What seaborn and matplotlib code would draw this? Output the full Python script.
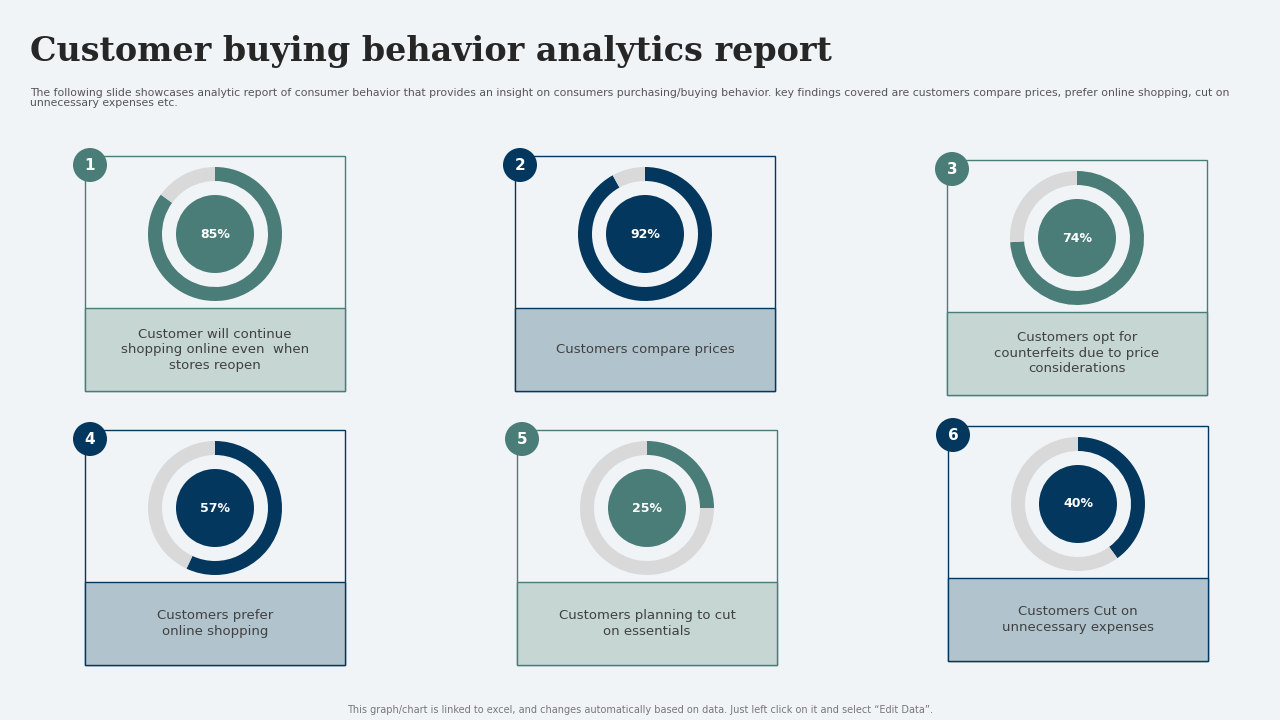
import matplotlib
matplotlib.use("Agg")
import matplotlib.pyplot as plt
import seaborn as sns
from matplotlib.patches import Rectangle, Circle

# data
card_numbers = ["1", "2", "3", "4", "5", "6"]
percentages = [85, 92, 74, 57, 25, 40]
labels = [
    "Customer will continue\nshopping online even  when\nstores reopen",
    "Customers compare prices",
    "Customers opt for\ncounterfeits due to price\nconsiderations",
    "Customers prefer\nonline shopping",
    "Customers planning to cut\non essentials",
    "Customers Cut on\nunnecessary expenses",
]
themes = ["teal", "navy", "teal", "navy", "teal", "navy"]

# layout (pixels, top-left origin): box left, box top
boxes = [(85, 156), (515, 156), (947, 160), (85, 430), (517, 430), (948, 426)]
BOX_W, BOX_H, PANEL_H = 260, 235, 83

TEAL = "#4a7c78"
NAVY = "#03375e"
GRAY = "#d9d9d9"
BG = "#f0f4f7"
PANEL = {"teal": "#c5d6d3", "navy": "#b1c4cd"}
MAIN = {"teal": TEAL, "navy": NAVY}

sns.set_theme(style="white")
W, H = 1280, 720
fig = plt.figure(figsize=(12.8, 7.2), dpi=100, facecolor=BG)
ax = fig.add_axes([0, 0, 1, 1])
ax.set_xlim(0, W)
ax.set_ylim(H, 0)
ax.axis("off")
ax.set_facecolor(BG)

ax.text(30, 52, "Customer buying behavior analytics report", fontsize=24,
        fontweight="bold", family="DejaVu Serif", color="#262626", va="center")
ax.text(30, 98, "The following slide showcases analytic report of consumer behavior that provides an insight on consumers purchasing/buying behavior. key findings covered are customers compare prices, prefer online shopping, cut on\nunnecessary expenses etc.",
        fontsize=7.8, color="#555555", va="center", linespacing=1.1)
ax.text(640, 710, "This graph/chart is linked to excel, and changes automatically based on data. Just left click on it and select \u201cEdit Data\u201d.",
        fontsize=7, color="#777777", ha="center", va="center")

R = 67
for num, pct, lab, th, (bx, by) in zip(card_numbers, percentages, labels, themes, boxes):
    c = MAIN[th]
    ax.add_patch(Rectangle((bx, by), BOX_W, BOX_H, facecolor=BG, edgecolor=c, lw=1))
    ax.add_patch(Rectangle((bx, by + BOX_H - PANEL_H), BOX_W, PANEL_H,
                           facecolor=PANEL[th], edgecolor=c, lw=1))
    ax.text(bx + BOX_W / 2, by + BOX_H - PANEL_H / 2, lab, ha="center", va="center",
            fontsize=9.5, color="#404040", linespacing=1.25)
    ax.add_patch(Circle((bx + 5, by + 9), 17, facecolor=c, edgecolor="none", zorder=5))
    ax.text(bx + 5, by + 9, num, ha="center", va="center", color="white",
            fontsize=11, fontweight="bold", zorder=6)

    cx, cy = bx + BOX_W / 2, by + 78
    pax = fig.add_axes([(cx - R) / W, 1 - (cy + R) / H, 2 * R / W, 2 * R / H])
    pax.pie([pct, 100 - pct], colors=[c, GRAY], startangle=90, counterclock=False,
            radius=1, wedgeprops=dict(width=14 / R, edgecolor="none"))
    pax.add_patch(Circle((0, 0), 39 / R, facecolor=c, edgecolor="none"))
    pax.text(0, 0, f"{pct}%", ha="center", va="center", color="white",
             fontsize=9, fontweight="bold")
    pax.set_xlim(-1, 1)
    pax.set_ylim(-1, 1)
    pax.axis("off")

fig.savefig("out.png", dpi=100, facecolor=BG)
